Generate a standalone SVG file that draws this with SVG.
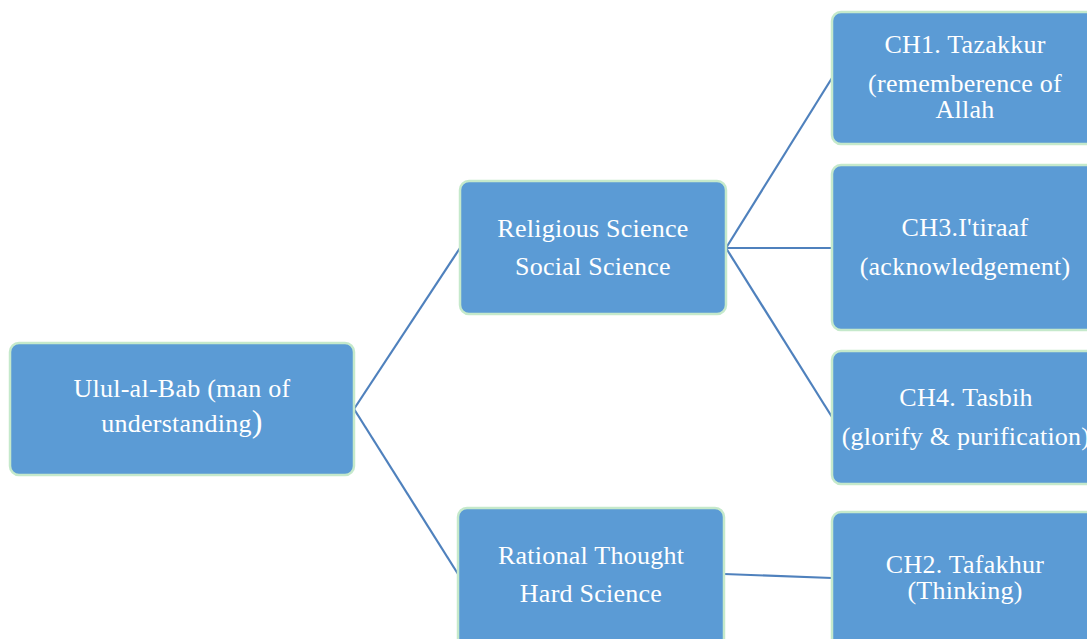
<svg xmlns="http://www.w3.org/2000/svg" width="1087" height="639" viewBox="0 0 1087 639">
<style>
.box{fill:#5B9BD5;stroke:#C5E9CB;stroke-width:2.5}
.t{font-family:"Liberation Serif","Times New Roman",serif;font-size:26px;letter-spacing:0.25px;fill:#FFFFFF;text-anchor:middle}
.c{stroke:#4F81BD;stroke-width:2.2;fill:none}
</style>
<rect width="1087" height="639" fill="#FFFFFF"/>
<g id="connectors">
<line class="c" x1="354" y1="409" x2="460" y2="248"/>
<line class="c" x1="354" y1="409" x2="458" y2="574"/>
<line class="c" x1="726" y1="248" x2="832" y2="78"/>
<line class="c" x1="726" y1="248" x2="832" y2="248"/>
<line class="c" x1="726" y1="248" x2="832" y2="417"/>
<line class="c" x1="724" y1="574" x2="832" y2="578"/>
</g>
<g id="root">
<rect class="box" x="10" y="343" width="344" height="132" rx="9"/>
<text class="t" x="182" y="397">Ulul-al-Bab (man of</text>
<text class="t" x="182" y="432">understanding<tspan font-size="32">)</tspan></text>
</g>
<g id="religious">
<rect class="box" x="460" y="181" width="266" height="133" rx="9"/>
<text class="t" x="593" y="237">Religious Science</text>
<text class="t" x="593" y="275">Social Science</text>
</g>
<g id="rational">
<rect class="box" x="458" y="508" width="266" height="140" rx="9"/>
<text class="t" x="591" y="564">Rational Thought</text>
<text class="t" x="591" y="602">Hard Science</text>
</g>
<g id="ch1">
<rect class="box" x="832" y="12" width="266" height="132" rx="9"/>
<text class="t" x="965" y="53">CH1. Tazakkur</text>
<text class="t" x="965" y="92">(rememberence of</text>
<text class="t" x="965" y="118">Allah</text>
</g>
<g id="ch3">
<rect class="box" x="832" y="165" width="266" height="165" rx="9"/>
<text class="t" x="965" y="236">CH3.I'tiraaf</text>
<text class="t" x="965" y="275">(acknowledgement)</text>
</g>
<g id="ch4">
<rect class="box" x="832" y="351" width="266" height="133" rx="9"/>
<text class="t" x="966" y="406">CH4. Tasbih</text>
<text class="t" x="966" y="445">(glorify &amp; purification)</text>
</g>
<g id="ch2">
<rect class="box" x="832" y="512" width="266" height="140" rx="9"/>
<text class="t" x="965" y="573">CH2. Tafakhur</text>
<text class="t" x="965" y="599">(Thinking)</text>
</g>
</svg>
